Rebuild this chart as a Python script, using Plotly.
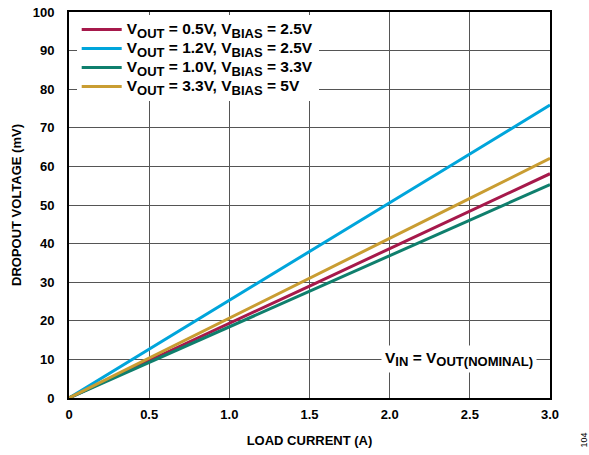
import plotly.graph_objects as go

current_a = [0.0, 0.5, 1.0, 1.5, 2.0, 2.5, 3.0]
v05_b25 = [0.0, 9.6, 19.3, 29.0, 38.7, 48.4, 58.1]
v12_b25 = [0.0, 12.7, 25.4, 38.0, 50.6, 63.2, 75.9]
v10_b33 = [0.0, 9.2, 18.5, 27.7, 36.9, 46.1, 55.3]
v33_b5 = [0.0, 10.3, 20.6, 30.9, 41.3, 51.7, 62.1]

SUB = '<sub><span style="font-size:13px">{}</span></sub>'
BIG = '<span style="font-size:15.5px">{}</span>'
series_names = [
    BIG.format("V" + SUB.format("OUT") + " = 0.5V, V" + SUB.format("BIAS") + " = 2.5V"),
    BIG.format("V" + SUB.format("OUT") + " = 1.2V, V" + SUB.format("BIAS") + " = 2.5V"),
    BIG.format("V" + SUB.format("OUT") + " = 1.0V, V" + SUB.format("BIAS") + " = 3.3V"),
    BIG.format("V" + SUB.format("OUT") + " = 3.3V, V" + SUB.format("BIAS") + " = 5V"),
]
series_values = [v05_b25, v12_b25, v10_b33, v33_b5]
series_colors = ["#A6194B", "#00A5DB", "#0F7F6D", "#C99D32"]

x_ticks = [0, 0.5, 1.0, 1.5, 2.0, 2.5, 3.0]
x_tick_labels = ["0", "0.5", "1.0", "1.5", "2.0", "2.5", "3.0"]
y_ticks = list(range(0, 101, 10))

FONT = "Liberation Sans, Arial, sans-serif"

fig = go.Figure()
for name, vals, col in zip(series_names, series_values, series_colors):
    fig.add_trace(go.Scatter(
        x=current_a, y=vals, mode="lines", name=name,
        line=dict(color=col, width=3),
    ))

fig.update_layout(
    width=589, height=455,
    margin=dict(l=69, r=39, t=12, b=57, autoexpand=False),
    paper_bgcolor="white", plot_bgcolor="white",
    font=dict(family=FONT, size=13, color="black", weight="bold"),
    showlegend=True,
    legend=dict(
        x=0.016, y=0.992, xanchor="left", yanchor="top",
        bgcolor="white", borderwidth=0,
        font=dict(family=FONT, size=12, color="black", weight="bold"),
        tracegroupgap=0, itemwidth=40,
    ),
    xaxis=dict(
        range=[0, 3], tickvals=x_ticks, ticktext=x_tick_labels,
        showgrid=True, gridcolor="#555555", gridwidth=1,
        showline=True, linecolor="black", linewidth=2, mirror=True,
        zeroline=False, ticks="", ticklabelstandoff=3, automargin=False,
        tickfont=dict(family=FONT, size=13, color="black", weight="bold"),
        title=dict(text="LOAD CURRENT (A)", standoff=15,
                   font=dict(family=FONT, size=13, color="black", weight="bold")),
    ),
    yaxis=dict(
        range=[0, 100], tickvals=y_ticks,
        showgrid=True, gridcolor="#555555", gridwidth=1,
        showline=True, linecolor="black", linewidth=2, mirror=True,
        zeroline=False, ticks="", ticklabelstandoff=10, automargin=False,
        tickfont=dict(family=FONT, size=13, color="black", weight="bold"),
        title=dict(text="DROPOUT VOLTAGE (mV)", standoff=8,
                   font=dict(family=FONT, size=13, color="black", weight="bold")),
    ),
)

fig.add_annotation(
    x=2.43, y=10.0, xref="x", yref="y",
    text="V" + SUB.format("IN") + " = V" + SUB.format("OUT(NOMINAL)"),
    showarrow=False, bgcolor="white", borderpad=3,
    font=dict(family=FONT, size=15.5, color="black", weight="bold"),
)
fig.add_annotation(
    x=1.0, y=0.0, xref="paper", yref="paper", xanchor="center", yanchor="bottom",
    xshift=33, yshift=-52,
    text="104", textangle=-90, showarrow=False,
    font=dict(family=FONT, size=9, color="black", weight="normal"),
)

fig.write_html(
    "out.html",
    config={"displayModeBar": False},
    post_script="document.body.style.margin='0px';",
)
